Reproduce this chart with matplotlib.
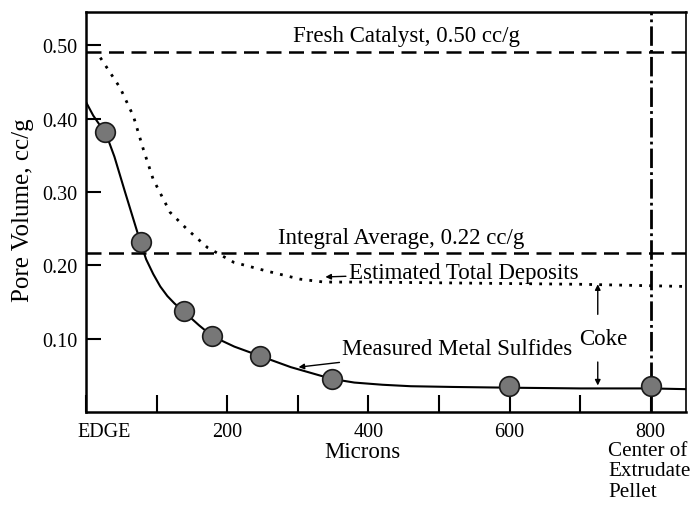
import matplotlib
matplotlib.use("Agg")
import matplotlib.pyplot as plt
import matplotlib.transforms as mtransforms

plt.rcParams['font.family'] = ['Liberation Serif', 'DejaVu Serif']

# measured metal sulfides (points) and the fitted curve through them
meas_x = [27, 77, 138, 179, 247, 348, 599, 800]
meas_y = [0.382, 0.231, 0.137, 0.103, 0.076, 0.045, 0.035, 0.035]

curve_x = [0, 10, 20, 27, 40, 55, 77, 85, 95, 105, 115, 125, 138, 160, 179,
           210, 247, 290, 348, 380, 420, 460, 520, 600, 700, 800, 850]
curve_y = [0.422, 0.404, 0.390, 0.382, 0.348, 0.300, 0.231, 0.208, 0.188,
           0.171, 0.158, 0.148, 0.137, 0.118, 0.103, 0.089, 0.076, 0.061,
           0.045, 0.040, 0.037, 0.035, 0.034, 0.033, 0.032, 0.032, 0.031]

# estimated total deposits (dotted)
est_x = [20, 48, 67, 81, 95, 119, 143, 172, 209, 256, 303, 337, 400, 500, 600,
         700, 800, 850]
est_y = [0.483, 0.442, 0.403, 0.358, 0.317, 0.272, 0.249, 0.224, 0.204, 0.192,
         0.181, 0.177, 0.177, 0.176, 0.175, 0.174, 0.172, 0.171]

fresh = 0.491
integral = 0.216
center = 800

xticks = [0, 200, 400, 600, 800]
xticklabels = ['EDGE', '200', '400', '600', '800']
xminor = [100, 300, 500, 700]
yticks = [0.10, 0.20, 0.30, 0.40, 0.50]
yticklabels = ['0.10', '0.20', '0.30', '0.40', '0.50']

fig = plt.figure(figsize=(6.95, 5.06), dpi=100)
ax = fig.add_axes([0.124, 0.184, 0.863, 0.790])
ax.set_xlim(0, 850)
ax.set_ylim(0, 0.545)

ax.axhline(fresh, color='black', lw=1.8, dashes=(6, 3))
ax.axhline(integral, color='black', lw=1.8, dashes=(6, 3))
ax.axvline(center, color='black', lw=2.0, dashes=(7, 1.5, 1, 1.5))

ax.plot(curve_x, curve_y, color='black', lw=1.5)
ax.plot(est_x, est_y, color='black', lw=2.0, dashes=(1, 2.6))
ax.scatter(meas_x, meas_y, s=200, facecolor='#777777', edgecolor='#1a1a1a',
           linewidth=1.2, zorder=5)

fs = 16.5
ax.text(454, 0.513, 'Fresh Catalyst, 0.50 cc/g', ha='center', va='center', fontsize=fs)
ax.text(447, 0.238, 'Integral Average, 0.22 cc/g', ha='center', va='center', fontsize=fs)
ax.annotate('Estimated Total Deposits', xy=(339, 0.184), xytext=(372, 0.190),
            ha='left', va='center', fontsize=fs,
            arrowprops=dict(arrowstyle='-|>', color='black', lw=1.0,
                            mutation_scale=8, shrinkA=0, shrinkB=0))
ax.annotate('Measured Metal Sulfides', xy=(301, 0.061), xytext=(362, 0.086),
            ha='left', va='center', fontsize=fs,
            arrowprops=dict(arrowstyle='-|>', color='black', lw=1.0,
                            mutation_scale=8, shrinkA=2, shrinkB=0))
ax.text(733, 0.100, 'Coke', ha='center', va='center', fontsize=fs)
ax.annotate('', xy=(725, 0.174), xytext=(725, 0.133),
            arrowprops=dict(arrowstyle='-|>', color='black', lw=1.0,
                            mutation_scale=8, shrinkA=0, shrinkB=0))
ax.annotate('', xy=(725, 0.036), xytext=(725, 0.068),
            arrowprops=dict(arrowstyle='-|>', color='black', lw=1.0,
                            mutation_scale=8, shrinkA=0, shrinkB=0))

ax.set_xticks(xticks)
ax.set_xticklabels(xticklabels)
ax.set_xticks(xminor, minor=True)
ax.set_yticks(yticks)
ax.set_yticklabels(yticklabels)
ax.tick_params(axis='both', which='both', direction='in', width=1.5,
               labelsize=14.5, top=False, right=False)
ax.tick_params(axis='x', which='both', length=12, pad=7)
ax.tick_params(axis='y', which='both', length=11, pad=6)

# shift "EDGE" a bit to the right like the original
lab = ax.get_xticklabels()[0]
lab.set_transform(lab.get_transform() +
                  mtransforms.ScaledTranslation(13 / 72, 0, fig.dpi_scale_trans))

for side in ['left', 'bottom', 'top']:
    ax.spines[side].set_linewidth(1.8)
ax.spines['right'].set_linewidth(1.2)

ax.set_xlabel('Microns', fontsize=fs)
ax.xaxis.set_label_coords(0.46, -0.073)
ax.set_ylabel('Pore Volume, cc/g', fontsize=18)
ax.yaxis.set_label_coords(-0.087, 0.507)

ax.text(740, -0.072, 'Center of\nExtrudate\nPellet', ha='left', va='top',
        fontsize=15.2, linespacing=1.12,
        transform=mtransforms.blended_transform_factory(ax.transData, ax.transAxes))

fig.savefig('out.png', dpi=100)
